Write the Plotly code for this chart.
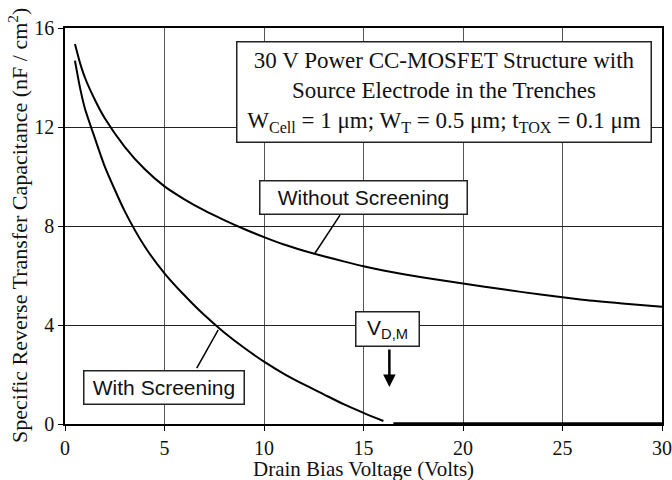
import plotly.graph_objects as go

# ---- data ----
v_without = [0.5, 0.75, 1, 1.5, 2, 3, 4, 5, 6, 7, 8, 9, 10, 11, 12, 13, 14, 15, 16, 18, 20, 22, 24, 26, 28, 30]
c_without = [15.35, 14.6, 14.0, 13.1, 12.35, 11.2, 10.3, 9.6, 9.08, 8.63, 8.24, 7.88, 7.55, 7.25, 7.0,
             6.78, 6.57, 6.37, 6.2, 5.92, 5.68, 5.44, 5.22, 5.02, 4.87, 4.74]

v_with = [0.5, 0.75, 1, 1.5, 2, 3, 4, 5, 6, 7, 8, 9, 10, 11, 12, 13, 14, 15, 16]
c_with = [14.68, 13.6, 12.75, 11.55, 10.4, 8.6, 7.18, 6.09, 5.2, 4.4, 3.7, 3.08, 2.52, 2.03, 1.6,
          1.2, 0.8, 0.45, 0.12]

v_zero = [16.5, 30]
c_zero = [0, 0]

x_ticks = [0, 5, 10, 15, 20, 25, 30]
y_ticks = [0, 4, 8, 12, 16]

SERIF = "Liberation Serif, Times New Roman, serif"
SANS = "Liberation Sans, Arial, sans-serif"
INK = "#111"

fig = go.Figure()
line_style = dict(color="black", width=2, shape="spline", smoothing=0.6)
fig.add_trace(go.Scatter(x=v_without, y=c_without, mode="lines", line=line_style))
fig.add_trace(go.Scatter(x=v_with, y=c_with, mode="lines", line=line_style))
fig.add_trace(go.Scatter(x=v_zero, y=c_zero, mode="lines", line=dict(color="black", width=3.5)))

# leader lines
fig.add_shape(type="line", x0=13.82, y0=8.44, x1=12.56, y1=6.9, line=dict(color="black", width=1.5))
fig.add_shape(type="line", x0=6.62, y0=2.26, x1=7.7, y1=3.8, line=dict(color="black", width=1.5))

box = dict(bgcolor="white", bordercolor="#222", borderwidth=1.5, borderpad=4, showarrow=False,
           xref="x", yref="y")
annotations = [
    dict(box, x=19.06, y=13.43, width=405, height=91,
         text="30 V Power CC-MOSFET Structure with<br>Source Electrode in the Trenches<br>"
              "W<sub>Cell</sub> = 1 μm; W<sub>T</sub> = 0.5 μm; t<sub>TOX</sub> = 0.1 μm",
         font=dict(family=SERIF, size=23, color=INK), align="center"),
    dict(box, x=14.99, y=9.17, width=198, height=24, text="Without Screening",
         font=dict(family=SANS, size=21, color=INK)),
    dict(box, x=4.96, y=1.49, width=151, height=24, text="With Screening",
         font=dict(family=SANS, size=21, color=INK)),
    dict(box, x=16.2, y=3.83, width=54, height=25, text="V<sub>D,M</sub>",
         font=dict(family=SANS, size=21, color=INK)),
    dict(x=16.3, y=1.5, ax=16.3, ay=3.07, xref="x", yref="y", axref="x", ayref="y",
         text="", showarrow=True, arrowhead=2, arrowsize=1, arrowwidth=2.5, arrowcolor="black"),
    # axis titles
    dict(xref="paper", yref="paper", x=0.5, y=0, yanchor="middle", yshift=-45, showarrow=False,
         text="Drain Bias Voltage (Volts)", font=dict(family=SERIF, size=21, color=INK)),
    dict(xref="paper", yref="paper", x=0, y=0.5, xanchor="center", xshift=-47, textangle=-90,
         showarrow=False, text="Specific Reverse Transfer Capacitance (nF / cm<sup>2</sup>)",
         font=dict(family=SERIF, size=22, color=INK)),
]

fig.update_layout(
    width=672, height=480,
    margin=dict(l=65, r=10, t=28, b=56, autoexpand=False),
    paper_bgcolor="white", plot_bgcolor="white",
    showlegend=False,
    annotations=annotations,
    font=dict(family=SERIF, size=20, color=INK),
)
fig.update_xaxes(
    range=[0, 30], tickvals=x_ticks, ticks="outside", ticklen=5, tickcolor="black",
    showgrid=True, gridcolor="#555", gridwidth=1, zeroline=False,
    showline=True, linecolor="black", linewidth=1.5, mirror=True, automargin=False,
    tickfont=dict(family=SERIF, size=20, color=INK),
)
fig.update_yaxes(
    range=[0, 16], tickvals=y_ticks, ticks="outside", ticklen=5, tickcolor="black",
    showgrid=True, gridcolor="#222", gridwidth=1, zeroline=False,
    showline=True, linecolor="black", linewidth=1.5, mirror=True, automargin=False,
    tickfont=dict(family=SERIF, size=20, color=INK),
)

fig.write_html("out.html", config={"displayModeBar": False},
               post_script="document.body.style.margin='0';document.body.style.overflow='hidden';")
